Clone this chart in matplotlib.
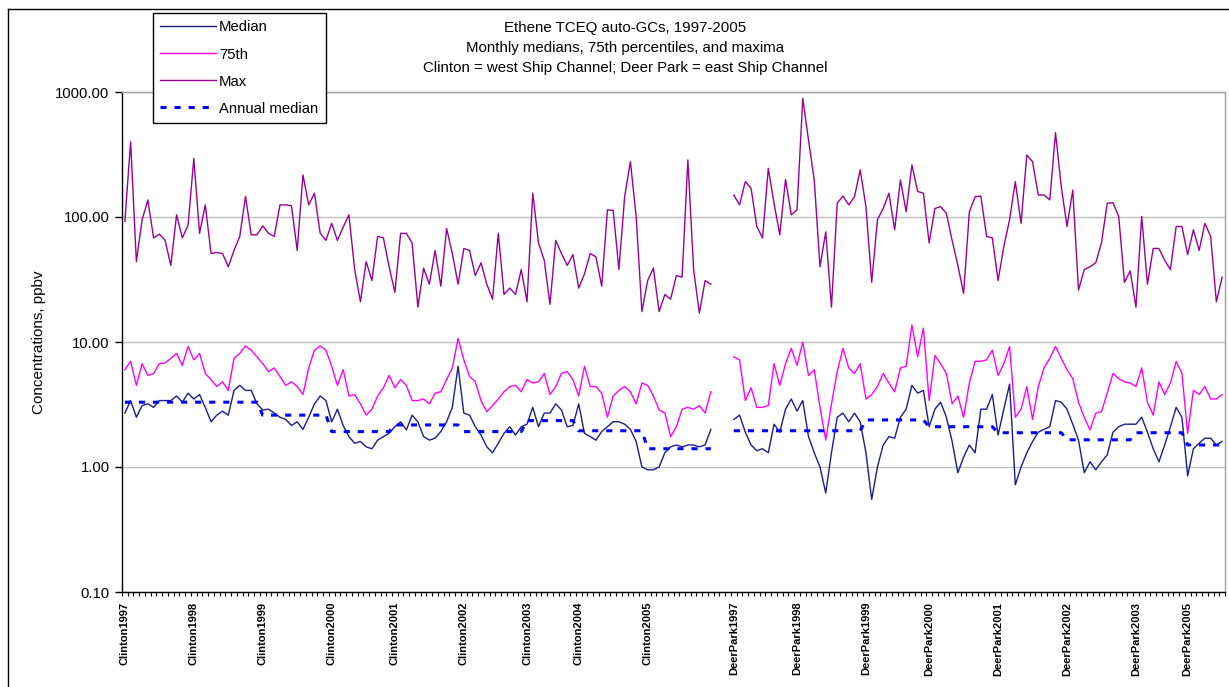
import numpy as np
import matplotlib
matplotlib.use("Agg")
import matplotlib.pyplot as plt
from matplotlib.lines import Line2D

plt.rcParams['font.family'] = ['Liberation Sans', 'DejaVu Sans']

# categories: one per month, label on the first month of each year
clinton_years = [1997, 1998, 1999, 2000, 2001, 2002, 2003, 2004, 2005]
clinton_months = [12, 12, 12, 11, 12, 11, 9, 12, 12]
deerpark_years = [1997, 1998, 1999, 2000, 2001, 2002, 2003, 2005]
deerpark_months = [11, 12, 11, 12, 12, 12, 9, 7]
gap = 3  # empty categories between the two sites

clinton_median = [
    2.7, 3.4, 2.5, 3.1, 3.2, 3.0, 3.4, 3.4, 3.4, 3.7,
    3.3, 3.9, 3.5, 3.8, 3.0, 2.3, 2.6, 2.8, 2.6, 4.1,
    4.5, 4.1, 4.1, 3.2, 2.86, 2.9, 2.7, 2.5, 2.4, 2.15,
    2.3, 2.0, 2.5, 3.2, 3.7, 3.4, 2.3, 2.9, 2.15, 1.75,
    1.55, 1.6, 1.45, 1.4, 1.64, 1.75, 1.86, 2.1, 2.3, 1.98,
    2.6, 2.3, 1.75, 1.64, 1.7, 1.92, 2.3, 3.0, 6.4, 2.7,
    2.6, 2.1, 1.8, 1.45, 1.3, 1.55, 1.86, 2.1, 1.8, 2.1,
    2.2, 3.0, 2.1, 2.7, 2.7, 3.2, 2.86, 2.1, 2.15, 3.2,
    1.86, 1.75, 1.64, 1.92, 2.1, 2.3, 2.3, 2.2, 2.0, 1.6,
    1.0, 0.95, 0.95, 1.0, 1.3, 1.45, 1.5, 1.45, 1.5, 1.5,
    1.45, 1.5, 2.0]
clinton_p75 = [
    6.0, 7.0, 4.5, 6.7, 5.4, 5.6, 6.7, 6.8, 7.4, 8.1,
    6.5, 9.2, 7.2, 8.1, 5.6, 5.0, 4.4, 4.8, 4.1, 7.4,
    8.1, 9.3, 8.6, 7.6, 6.7, 5.8, 6.2, 5.3, 4.5, 4.8,
    4.4, 3.8, 6.2, 8.6, 9.3, 8.6, 6.4, 4.5, 6.0, 3.7,
    3.8, 3.2, 2.6, 2.9, 3.7, 4.3, 5.4, 4.3, 5.0, 4.5,
    3.4, 3.4, 3.5, 3.2, 3.9, 4.0, 5.0, 6.2, 10.7, 7.2,
    5.3, 4.8, 3.4, 2.77, 3.1, 3.5, 4.0, 4.4, 4.5, 4.0,
    5.0, 4.7, 4.8, 5.6, 3.8, 4.4, 5.6, 5.8, 5.0, 3.7,
    6.4, 4.4, 4.4, 3.9, 2.5, 3.7, 4.1, 4.4, 4.0, 3.2,
    4.7, 4.5, 3.7, 2.86, 2.7, 1.75, 2.1, 2.9, 3.0, 2.9,
    3.1, 2.7, 4.0]
clinton_max = [
    92, 400, 44, 95, 137, 68, 73, 65, 41, 104,
    68, 86, 294, 74, 125, 51, 52, 51, 40, 54,
    70, 146, 72, 72, 85, 74, 70, 125, 125, 123,
    54, 217, 125, 155, 74, 65, 89, 65, 83, 104,
    38, 21, 44, 31, 70, 68, 40, 25, 74, 74,
    62, 19, 39, 29, 54, 28, 81, 51, 29, 56,
    54, 34, 43, 29, 22, 74, 24, 27, 24, 38,
    21, 155, 62, 45, 20, 65, 51, 41, 50, 27,
    35, 51, 48, 28, 114, 113, 38, 146, 277, 101,
    17.5, 31, 39, 17.5, 24, 22, 34, 33, 286, 38,
    17, 31, 29]
clinton_annual = [3.3, 3.3, 2.6, 1.92, 2.17, 1.92, 2.35, 1.95, 1.4]

deerpark_median = [
    2.4, 2.6, 1.9, 1.5, 1.35, 1.4, 1.3, 2.2, 1.9, 2.9,
    3.5, 2.8, 3.4, 1.75, 1.3, 1.0, 0.62, 1.3, 2.5, 2.7,
    2.3, 2.7, 2.3, 1.3, 0.55, 1.0, 1.5, 1.75, 1.7, 2.5,
    2.9, 4.5, 3.9, 4.1, 2.1, 2.9, 3.3, 2.5, 1.6, 0.9,
    1.2, 1.5, 1.3, 2.9, 2.9, 3.8, 1.8, 2.9, 4.6, 0.72,
    1.0, 1.3, 1.6, 1.9, 2.0, 2.1, 3.4, 3.3, 2.9, 2.2,
    1.64, 0.9, 1.1, 0.95, 1.1, 1.25, 1.9, 2.1, 2.2, 2.2,
    2.2, 2.5, 1.9, 1.4, 1.1, 1.5, 2.1, 3.0, 2.5, 0.85,
    1.4, 1.55, 1.7, 1.7, 1.5, 1.6]
deerpark_p75 = [
    7.6, 7.2, 3.4, 4.3, 3.0, 3.0, 3.1, 6.7, 4.5, 6.7,
    8.9, 6.5, 10.0, 5.4, 6.0, 3.0, 1.64, 3.2, 5.8, 8.9,
    6.2, 5.6, 6.7, 3.5, 3.8, 4.4, 5.6, 4.7, 4.0, 6.2,
    6.4, 13.7, 7.6, 12.9, 3.4, 7.8, 6.7, 5.6, 3.2, 3.7,
    2.5, 4.7, 7.0, 7.0, 7.2, 8.6, 5.4, 6.7, 9.2, 2.5,
    2.9, 4.4, 2.4, 4.4, 6.2, 7.4, 9.2, 7.4, 6.0, 5.1,
    3.3, 2.5, 1.98, 2.7, 2.77, 3.9, 5.6, 5.1, 4.8, 4.7,
    4.4, 6.2, 3.3, 2.6, 4.8, 3.8, 4.7, 7.0, 5.6, 1.86,
    4.1, 3.8, 4.4, 3.5, 3.5, 3.8]
deerpark_max = [
    150, 125, 192, 170, 84, 68, 245, 129, 72, 200,
    104, 114, 890, 413, 198, 40, 76, 19, 129, 147,
    125, 145, 238, 121, 30, 95, 117, 155, 79, 198,
    110, 261, 160, 155, 62, 117, 121, 107, 65, 41,
    24.5, 110, 145, 147, 70, 68, 31, 58, 95, 192,
    89, 313, 277, 150, 150, 137, 473, 175, 84, 164,
    26, 38, 40, 43, 62, 129, 130, 101, 30, 37,
    19, 101, 29, 56, 56, 45, 38, 84, 84, 50,
    79, 54, 89, 70, 21, 33]
deerpark_annual = [1.95, 1.95, 2.38, 2.1, 1.88, 1.65, 1.88, 1.5]


def join(c, d):
    return np.array(list(c) + [np.nan] * gap + list(d), dtype=float)


median = join(clinton_median, deerpark_median)
p75 = join(clinton_p75, deerpark_p75)
pmax = join(clinton_max, deerpark_max)
annual = join(np.repeat(clinton_annual, clinton_months),
              np.repeat(deerpark_annual, deerpark_months))
x = np.arange(len(median))

labels = []
for yr, n in zip(clinton_years, clinton_months):
    labels += ['Clinton%d' % yr] + [''] * (n - 1)
labels += [''] * gap
for yr, n in zip(deerpark_years, deerpark_months):
    labels += ['DeerPark%d' % yr] + [''] * (n - 1)

fig = plt.figure(figsize=(12.29, 6.87), dpi=100)
ax = fig.add_axes([122 / 1229, 1 - 592 / 687, 1103 / 1229, 500 / 687])

ax.plot(x, median, color='#1c1c8c', lw=1.0, label='Median')
ax.plot(x, p75, color='#ff00ff', lw=1.0, label='75th')
ax.plot(x, pmax, color='#990099', lw=1.0, label='Max')
ax.plot(x, annual, color='#0000ff', lw=2.2, dashes=(2, 2.6),
        label='Annual median')

ax.set_yscale('log')
ax.set_ylim(0.1, 1000)
ax.set_xlim(-0.5, len(x) - 0.5)
ax.set_yticks([0.1, 1, 10, 100, 1000])
ax.set_yticklabels(['0.10', '1.00', '10.00', '100.00', '1000.00'], fontsize=10.7)
ax.minorticks_off()
ax.yaxis.grid(True, color='#c0c0c0', lw=1.0)
ax.set_axisbelow(True)
ax.tick_params(axis='y', length=5, width=1, pad=4, direction='out')

lab_idx = [i for i, s in enumerate(labels) if s]
ax.set_xticks(lab_idx)
ax.set_xticklabels([labels[i] for i in lab_idx], rotation=90,
                   fontsize=8, fontweight='bold')
ax.set_xticks(np.arange(len(x) + 1) - 0.5, minor=True)
ax.tick_params(axis='x', which='major', length=0, pad=7)
ax.tick_params(axis='x', which='minor', length=3, width=0.8, direction='out')

for s in ['left', 'bottom']:
    ax.spines[s].set_color('black')
    ax.spines[s].set_linewidth(1.0)
for s in ['top', 'right']:
    ax.spines[s].set_color('#a0a0a0')
    ax.spines[s].set_linewidth(1.0)

ax.set_ylabel('Concentrations, ppbv', fontsize=11)
ax.yaxis.set_label_coords(-76 / 1103, 0.5)

fig.text(625 / 1229, 1 - 48 / 687,
         'Ethene TCEQ auto-GCs, 1997-2005\n'
         'Monthly medians, 75th percentiles, and maxima\n'
         'Clinton = west Ship Channel; Deer Park = east Ship Channel',
         ha='center', va='center', fontsize=10.8, linespacing=1.55)

# chart border (left and top visible)
fig.add_artist(Line2D([8 / 1229, 8 / 1229], [0, 1 - 9 / 687],
                      transform=fig.transFigure, color='black', lw=1))
fig.add_artist(Line2D([8 / 1229, 1], [1 - 9 / 687, 1 - 9 / 687],
                      transform=fig.transFigure, color='black', lw=1))

leg = fig.legend(loc='upper left', bbox_to_anchor=(153 / 1229, 1 - 13 / 687),
                 fontsize=10.7, handlelength=3.75, handletextpad=0.2,
                 labelspacing=0.88, borderpad=0.5, borderaxespad=0,
                 fancybox=False, framealpha=1, edgecolor='black')
leg.get_frame().set_linewidth(1.0)

fig.savefig('out.png', dpi=100)
